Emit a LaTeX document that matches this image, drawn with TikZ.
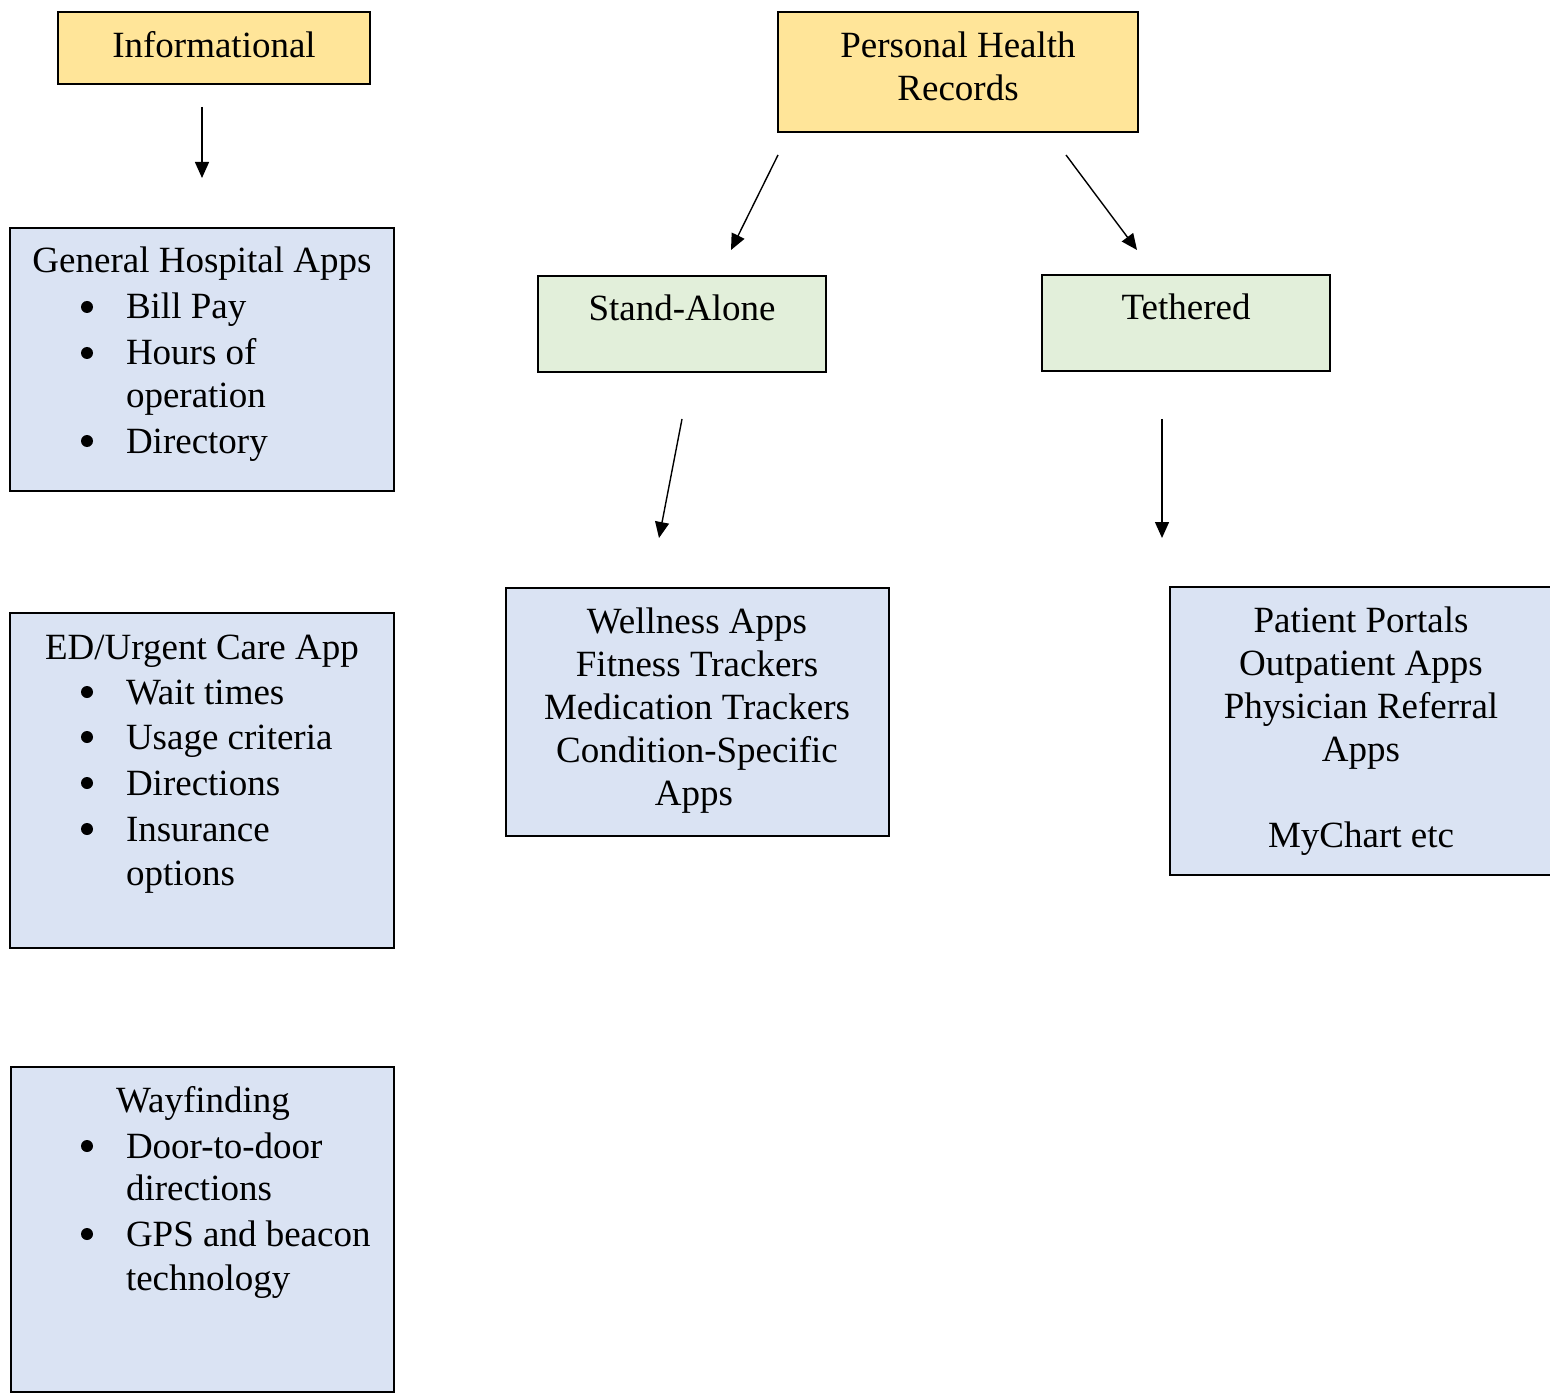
\documentclass[tikz,border=0pt]{standalone}
\usepackage{fontspec}
\setmainfont{Liberation Serif}
\usetikzlibrary{arrows.meta}
\definecolor{boxyellow}{HTML}{FFE599}
\definecolor{boxgreen}{HTML}{E2EFDA}
\definecolor{boxblue}{HTML}{DAE3F3}
\tikzset{
  boxbase/.style={draw=black, line width=1.2pt, inner sep=0pt, outer sep=0pt},
  yellowbox/.style={boxbase, fill=boxyellow},
  greenbox/.style={boxbase, fill=boxgreen},
  bluebox/.style={boxbase, fill=boxblue},
  txt/.style={inner sep=0pt, outer sep=0pt, anchor=base, font=\fontsize{18.5}{21.5}\selectfont},
  ltxt/.style={txt, anchor=base west},
  bul/.style={circle, fill=black, inner sep=0pt, minimum size=6pt},
  arr/.style={line width=0.7pt, -{Triangle[length=8pt,width=7pt]}}
}
\begin{document}
\begin{tikzpicture}[x=0.5pt,y=-0.5pt]
\useasboundingbox (0,0) rectangle (1550,1395);
\clip (0,0) rectangle (1550,1395);
% boxes
\node[yellowbox, minimum width=156pt, minimum height=36pt] (info) at (214,48) {};
\node[yellowbox, minimum width=180pt, minimum height=60pt] (phr) at (958,72) {};
\node[greenbox, minimum width=144pt, minimum height=48pt] (sa) at (682,324) {};
\node[greenbox, minimum width=144pt, minimum height=48pt] (teth) at (1186,323) {};
\node[bluebox, minimum width=192pt, minimum height=131.5pt] (gen) at (202,359.5) {};
\node[bluebox, minimum width=192pt, minimum height=167.5pt] (ed) at (202,780.5) {};
\node[bluebox, minimum width=191.5pt, minimum height=162.5pt] (way) at (202.5,1229.5) {};
\node[bluebox, minimum width=191.5pt, minimum height=124pt] (well) at (697.5,712) {};
\node[bluebox, minimum width=195pt, minimum height=144pt] (pp) at (1365,731) {};
% top texts
\node[txt] (tinfo) at (214,58) {Informational};
\node[txt] (tphr1) at (958,58) {Personal Health};
\node[txt] (tphr2) at (958,101) {Records};
\node[txt] (tsa) at (682,321) {Stand-Alone};
\node[txt] (tteth) at (1186,320) {Tethered};
% general hospital apps
\node[txt] (g0) at (202,273) {General Hospital Apps};
\node[bul] (gb1) at (87,307) {};
\node[ltxt] (g1) at (126,319) {Bill Pay};
\node[bul] (gb2) at (87,353) {};
\node[ltxt] (g2) at (126,365) {Hours of};
\node[ltxt] (g3) at (126,408) {operation};
\node[bul] (gb4) at (87,441) {};
\node[ltxt] (g4) at (126,453) {Directory};
% ED
\node[txt] (e0) at (202,659) {ED/Urgent Care App};
\node[bul] (eb1) at (87,692) {};
\node[ltxt] (e1) at (126,704) {Wait times};
\node[bul] (eb2) at (87,737) {};
\node[ltxt] (e2) at (126,749) {Usage criteria};
\node[bul] (eb3) at (87,783) {};
\node[ltxt] (e3) at (126,795) {Directions};
\node[bul] (eb4) at (87,829) {};
\node[ltxt] (e4) at (126,841) {Insurance};
\node[ltxt] (e5) at (126,885) {options};
% wayfinding
\node[txt] (w0) at (203,1112) {Wayfinding};
\node[bul] (wb1) at (87,1146) {};
\node[ltxt] (w1) at (126,1158) {Door-to-door};
\node[ltxt] (w2) at (126,1200) {directions};
\node[bul] (wb3) at (87,1234) {};
\node[ltxt] (w3) at (126,1246) {GPS and beacon};
\node[ltxt] (w4) at (126,1290) {technology};
% wellness
\node[txt] (l1) at (697,633) {Wellness Apps};
\node[txt] (l2) at (697,676) {Fitness Trackers};
\node[txt] (l3) at (697,719) {Medication Trackers};
\node[txt] (l4) at (697,762) {Condition-Specific};
\node[txt] (l5) at (694,805) {Apps};
% patient portals
\node[txt] (p1) at (1361,632) {Patient Portals};
\node[txt] (p2) at (1361,675) {Outpatient Apps};
\node[txt] (p3) at (1361,718) {Physician Referral};
\node[txt] (p4) at (1361,761) {Apps};
\node[txt] (p5) at (1361,847) {MyChart etc};
% arrows
\coordinate (a1s) at (202,107); \coordinate (a1e) at (202,178);
\coordinate (a2s) at (778,155); \coordinate (a2e) at (731,250);
\coordinate (a3s) at (1066,155); \coordinate (a3e) at (1137,250);
\coordinate (a4s) at (682,419); \coordinate (a4e) at (659,538);
\coordinate (a5s) at (1162,419); \coordinate (a5e) at (1162,538);
\draw[arr] (a1s) -- (a1e);
\draw[arr] (a2s) -- (a2e);
\draw[arr] (a3s) -- (a3e);
\draw[arr] (a4s) -- (a4e);
\draw[arr] (a5s) -- (a5e);
\end{tikzpicture}
\end{document}
